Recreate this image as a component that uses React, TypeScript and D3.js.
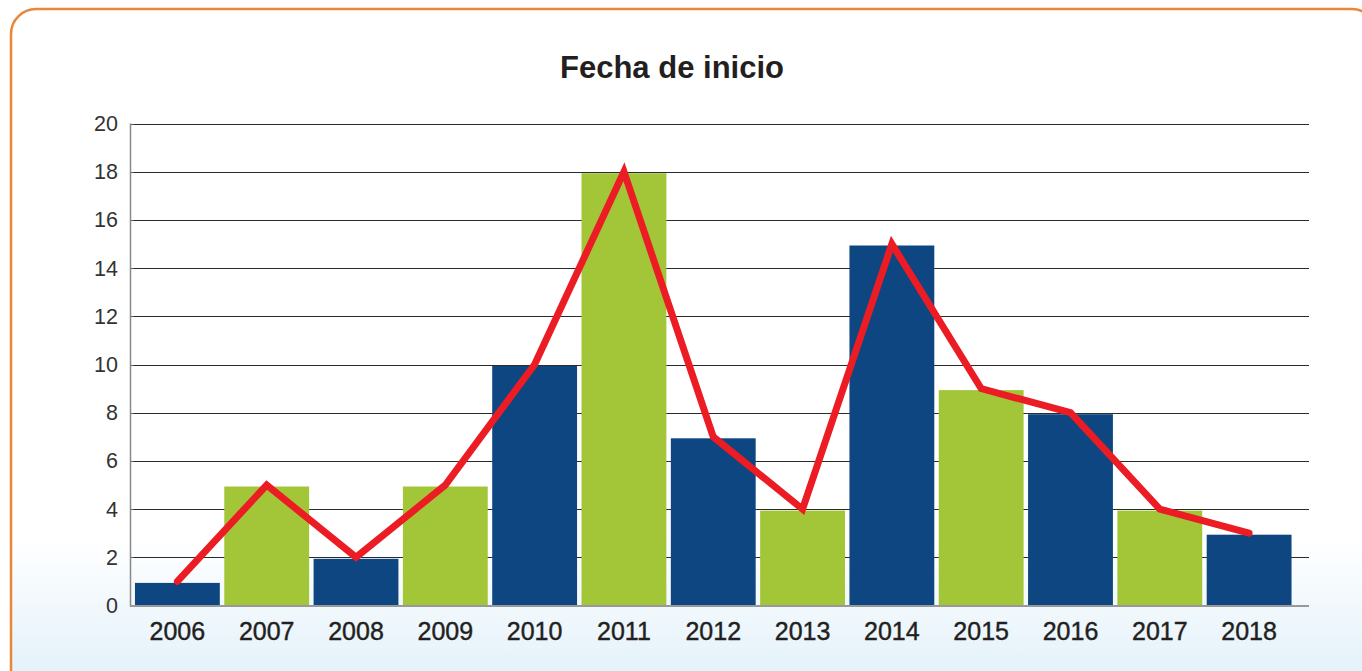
import React from "react";
import * as d3 from "d3";

const years = ["2006","2007","2008","2009","2010","2011","2012","2013","2014","2015","2016","2017","2018"];
const counts = [1, 5, 2, 5, 10, 18, 7, 4, 15, 9, 8, 4, 3];
const barColors = ["blue","green","blue","green","blue","green","blue","green","blue","green","blue","green","blue"];
const yTicks = [0, 2, 4, 6, 8, 10, 12, 14, 16, 18, 20];
const title = "Fecha de inicio";

const W = 1362, H = 671;
const left = 130, right = 1309, top = 123.5, bottom = 605.5;

export default function App() {
  const x = d3.scaleBand<string>().domain(years).range([130.5, 1296]).paddingInner(0.05).paddingOuter(0.05);
  const y = d3.scaleLinear().domain([0, 20]).range([bottom, top]);
  const colorMap: Record<string, string> = { blue: "#0d4680", green: "#a3c639" };
  const line = d3.line<number>()
    .x((_, i) => (x(years[i]) as number) + x.bandwidth() / 2)
    .y((d) => y(d));

  return (
    <svg width={W} height={H} style={{ position: "absolute", left: 0, top: 0 }} fontFamily="'Liberation Sans', Arial, sans-serif">
      <defs>
        <linearGradient id="bg2" x1="0" y1="540" x2="0" y2="671" gradientUnits="userSpaceOnUse">
          <stop offset="0" stopColor="#ffffff" />
          <stop offset="1" stopColor="#e4f2fa" />
        </linearGradient>
      </defs>
      <rect x={0} y={0} width={W} height={H} fill="#ffffff" />
      <rect x={11} y={9} width={1366} height={700} rx={25} ry={25} fill="url(#bg2)" stroke="#e8873a" strokeWidth={2.5} />
      <text x={672} y={78} textAnchor="middle" fontSize={31} fontWeight="bold" fill="#231f20">{title}</text>
      {yTicks.filter((t) => t > 0).map((t) => (
        <line key={"g" + t} x1={left} x2={right} y1={Math.round(y(t)) + 0.5} y2={Math.round(y(t)) + 0.5} stroke="#2b2b2b" strokeWidth={1} />
      ))}
      {yTicks.map((t) => (
        <g key={"t" + t}>
          <line x1={left} x2={left + 4} y1={Math.round(y(t)) + 0.5} y2={Math.round(y(t)) + 0.5} stroke="#555" />
          <text x={118} y={y(t) + 7.5} textAnchor="end" fontSize={21.5} fill="#333">{t}</text>
        </g>
      ))}
      {counts.map((v, i) => (
        <rect key={"b" + i} x={x(years[i])} y={y(v) + 1.5} width={x.bandwidth()} height={bottom - y(v) - 1.5} fill={colorMap[barColors[i]]} />
      ))}
      <line x1={left + 0.5} x2={left + 0.5} y1={top} y2={bottom + 1} stroke="#888" strokeWidth={1.5} />
      <line x1={left} x2={right} y1={bottom + 0.5} y2={bottom + 0.5} stroke="#999" strokeWidth={2} />
      <path d={line(counts) || ""} fill="none" stroke="#ec1c24" strokeWidth={7} strokeLinejoin="miter" strokeMiterlimit={10} strokeLinecap="round" />
      {years.map((yr) => (
        <text key={"x" + yr} x={(x(yr) as number) + x.bandwidth() / 2} y={640} textAnchor="middle" fontSize={25} fill="#231f20" stroke="#231f20" strokeWidth={0.4}>{yr}</text>
      ))}
    </svg>
  );
}
